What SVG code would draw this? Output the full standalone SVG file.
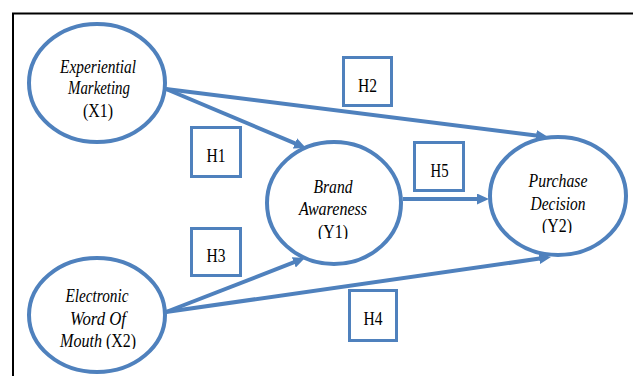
<svg xmlns="http://www.w3.org/2000/svg" width="633" height="376" viewBox="0 0 633 376">
  <defs>
    <style>
      .node { fill: #FFFFFF; stroke: #4F81BD; stroke-width: 4; }
      .hyp { fill: #FFFFFF; stroke: #4F81BD; stroke-width: 3; }
      .edge { fill: none; stroke: #4F81BD; stroke-width: 4; }
      .lbl { font-size: 18px; fill: #000000; text-anchor: middle; }
      .it { font-style: italic; }
    </style>
    <marker id="arrow" viewBox="0 0 12 11" markerWidth="12" markerHeight="11" markerUnits="userSpaceOnUse" refX="4" refY="5.5" orient="auto">
      <path d="M0,0 L12,5.5 L0,11 z" fill="#4F81BD"/>
    </marker>
    <clipPath id="clipY1"><rect x="250" y="130" width="170" height="109"/></clipPath>
    <clipPath id="clipY2"><rect x="480" y="130" width="160" height="103"/></clipPath>
    <clipPath id="clipX2"><rect x="20" y="250" width="160" height="99"/></clipPath>
  </defs>

  <rect x="0" y="0" width="633" height="376" fill="#FFFFFF"/>
  <rect id="frame" x="13" y="13.5" width="640" height="400" fill="none" stroke="#000000" stroke-width="2"/>

  <g id="connectors">
    <line class="edge" x1="166" y1="89" x2="298.6" y2="144.9" marker-end="url(#arrow)"/>
    <line class="edge" x1="166" y1="89" x2="540.1" y2="136" marker-end="url(#arrow)"/>
    <line class="edge" x1="403" y1="199" x2="481" y2="199" marker-end="url(#arrow)"/>
    <line class="edge" x1="166" y1="312" x2="297.5" y2="260.9" marker-end="url(#arrow)"/>
    <line class="edge" x1="166" y1="312" x2="543.1" y2="258.1" marker-end="url(#arrow)"/>
  </g>

  <g font-family="Liberation Serif, Times New Roman, serif">
  <g id="X1">
    <ellipse class="node" cx="97" cy="83" rx="68" ry="59"/>
    <text class="lbl it" x="98" y="73" textLength="76" lengthAdjust="spacingAndGlyphs">Experiential</text>
    <text class="lbl it" x="99" y="94" textLength="62" lengthAdjust="spacingAndGlyphs">Marketing</text>
    <text class="lbl" x="98" y="117" textLength="30" lengthAdjust="spacingAndGlyphs">(X1)</text>
  </g>

  <g id="Y1">
    <ellipse class="node" cx="334" cy="203" rx="67" ry="61"/>
    <g clip-path="url(#clipY1)">
      <text class="lbl it" x="333" y="193" textLength="39" lengthAdjust="spacingAndGlyphs">Brand</text>
      <text class="lbl it" x="333" y="215" textLength="68" lengthAdjust="spacingAndGlyphs">Awareness</text>
      <text class="lbl" x="333" y="238" textLength="30" lengthAdjust="spacingAndGlyphs">(Y1)</text>
    </g>
  </g>

  <g id="Y2">
    <ellipse class="node" cx="558" cy="196" rx="68" ry="59"/>
    <g clip-path="url(#clipY2)">
      <text class="lbl it" x="558" y="187" textLength="59" lengthAdjust="spacingAndGlyphs">Purchase</text>
      <text class="lbl it" x="558" y="210" textLength="55" lengthAdjust="spacingAndGlyphs">Decision</text>
      <text class="lbl" x="557" y="232" textLength="30" lengthAdjust="spacingAndGlyphs">(Y2)</text>
    </g>
  </g>

  <g id="X2">
    <ellipse class="node" cx="97" cy="315" rx="68" ry="57"/>
    <g clip-path="url(#clipX2)">
      <text class="lbl it" x="97" y="302" textLength="63" lengthAdjust="spacingAndGlyphs">Electronic</text>
      <text class="lbl it" x="98" y="325" textLength="56" lengthAdjust="spacingAndGlyphs">Word Of</text>
      <text class="lbl it" x="81" y="347" textLength="42" lengthAdjust="spacingAndGlyphs">Mouth</text>
      <text class="lbl" x="121" y="347" textLength="30" lengthAdjust="spacingAndGlyphs">(X2)</text>
    </g>
  </g>

  <g id="H1">
    <rect class="hyp" x="191.5" y="127.5" width="49" height="49"/>
    <text class="lbl" x="216" y="162" textLength="19" lengthAdjust="spacingAndGlyphs">H1</text>
  </g>
  <g id="H2">
    <rect class="hyp" x="343.5" y="57.5" width="48" height="48"/>
    <text class="lbl" x="367.5" y="92" textLength="19" lengthAdjust="spacingAndGlyphs">H2</text>
  </g>
  <g id="H3">
    <rect class="hyp" x="191.5" y="228.5" width="49" height="47"/>
    <text class="lbl" x="216" y="262" textLength="19" lengthAdjust="spacingAndGlyphs">H3</text>
  </g>
  <g id="H4">
    <rect class="hyp" x="349.5" y="290.5" width="47" height="50"/>
    <text class="lbl" x="373" y="325" textLength="19" lengthAdjust="spacingAndGlyphs">H4</text>
  </g>
  <g id="H5">
    <rect class="hyp" x="414.5" y="142.5" width="49" height="48"/>
    <text class="lbl" x="439.5" y="177" textLength="18" lengthAdjust="spacingAndGlyphs">H5</text>
  </g>
  </g>
</svg>
